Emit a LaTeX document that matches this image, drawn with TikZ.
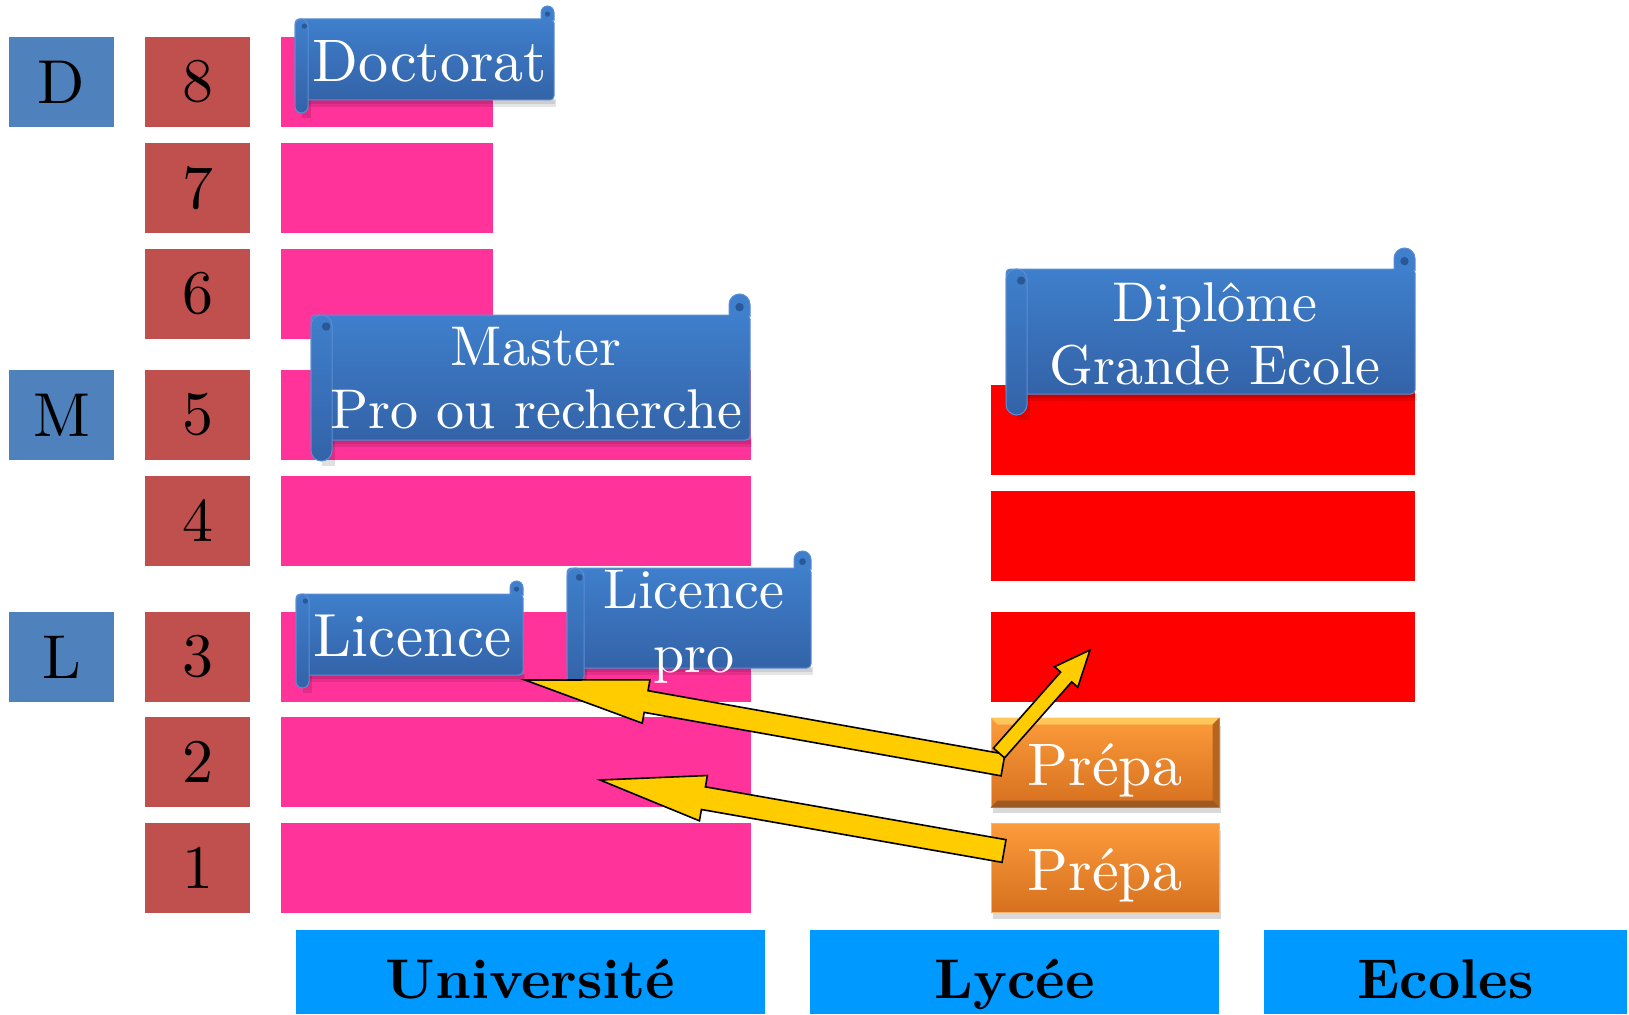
\documentclass[tikz,border=0pt]{standalone}
\usepackage{fontspec}
\setmainfont{lmroman10-regular}[Extension=.otf, BoldFont=lmroman10-bold]
\usetikzlibrary{calc}

\definecolor{lmdblue}{HTML}{4F81BD}
\definecolor{yearred}{HTML}{C0504D}
\definecolor{unipink}{HTML}{FF3399}
\definecolor{gered}{HTML}{FF0000}
\definecolor{placeblue}{HTML}{0099FF}
\definecolor{scrolltop}{HTML}{3F7FCC}
\definecolor{scrollbot}{HTML}{3363A8}
\definecolor{scrolledge}{HTML}{5B8ED3}
\definecolor{scrolldark}{HTML}{2A5796}
\definecolor{prepatop}{HTML}{FC9B3B}
\definecolor{prepabot}{HTML}{D6701F}
\definecolor{prepaedge}{HTML}{F9B36B}
\definecolor{prepalight}{HTML}{FFC65A}
\definecolor{prepashade}{HTML}{B5651D}
\definecolor{prepadeep}{HTML}{9C5A22}
\definecolor{arrowyellow}{HTML}{FFCC00}

% left, top, right, bottom, roll size (pt, top of page = 0, downwards positive)
\newcommand{\scrollshape}[5]{%
  \pgfmathsetmacro\scrollhalf{#5/2}
  \fill[black, opacity=0.10] ({#1+3}, {-#4+#5+1}) rectangle ({#3+2}, {-#4+#5-7});
  \fill[black, opacity=0.10] ({#1+3}, {-#4+#5}) rectangle ({#3+1}, {-#4+#5-4});
  \fill[black, opacity=0.12] ({#1+#5*0.5}, {-#4+#5}) rectangle ({#1+#5+3}, {-#4-5});
  \path[top color=scrolltop, bottom color=scrollbot, draw=scrolledge, line width=1pt, rounded corners=4pt]
    ({#1}, {-#2-#5}) rectangle ({#3}, {-#4+#5});
  \fill[scrolltop] ({#3-#5}, {-#2-#5-1}) -- ({#3-#5}, {-#2-#5/2}) arc[start angle=180, end angle=0, radius=#5/2] -- ({#3}, {-#2-#5-1}) -- cycle;
  \draw[scrolledge, line width=1pt] ({#3-#5}, {-#2-#5}) -- ({#3-#5}, {-#2-#5/2}) arc[start angle=180, end angle=0, radius=#5/2] -- ({#3}, {-#2-#5-2});
  \fill[scrolldark] ({#3-#5/2}, {-#2-#5/2}) ++(0, {-#5/8}) circle[radius=#5/5];
  \path[top color=scrolltop, bottom color=scrollbot, draw=scrolledge, line width=1pt, rounded corners=\scrollhalf pt]
    ({#1}, {-#2-#5}) rectangle ({#1+#5}, {-#4});
  \fill[scrolldark] ({#1+#5*0.72}, {-#2-#5*1.55}) circle[radius=#5*0.2];
}

% tail, tip, shaft half width, head half width, head length
\newcommand{\blockarrow}[5]{%
  \coordinate (#1-base) at ($(#2)!#5!(#1)$);
  \filldraw[arrowbody] ($(#1)!#3!90:(#2)$) -- ($(#1-base)!#3!-90:(#1)$) -- ($(#1-base)!#4!-90:(#1)$) -- (#2)
    -- ($(#1-base)!#4!90:(#1)$) -- ($(#1-base)!#3!90:(#1)$) -- ($(#1)!#3!-90:(#2)$) -- cycle;
}

\begin{document}
\begin{tikzpicture}
[x=1pt, y=1pt, every node/.style={inner sep=0pt},
 lmdbox/.style={rectangle, minimum width=105pt, minimum height=90pt, fill=lmdblue, font=\fontsize{62}{66}\selectfont},
 yearbox/.style={rectangle, minimum width=105pt, minimum height=90pt, fill=yearred, font=\fontsize{62}{66}\selectfont},
 unibar/.style={rectangle, minimum height=90pt, fill=unipink},
 gebar/.style={rectangle, minimum width=424pt, minimum height=90pt, fill=gered},
 prepabox/.style={rectangle, minimum width=228pt, minimum height=89pt, top color=prepatop, bottom color=prepabot,
   draw=prepaedge, line width=1pt, text=white, font=\fontsize{60}{64}\selectfont, text height=45pt, text depth=0pt},
 placebox/.style={rectangle, minimum height=84pt, fill=placeblue, font=\fontsize{56}{60}\selectfont\bfseries,
   text height=52pt, text depth=0pt},
 scrolltext/.style={text=white, align=center, font=\fontsize{56}{63}\selectfont},
 arrowbody/.style={fill=arrowyellow, draw=black, line width=1.6pt}]
\useasboundingbox (0pt, 0pt) rectangle (1629pt, -1014pt);
% cycles
\node (D) [lmdbox] at (61.5pt, -82.0pt) {D};
\node (M) [lmdbox] at (61.5pt, -415.0pt) {M};
\node (L) [lmdbox] at (61.5pt, -657.0pt) {L};
% years
\node (y8) [yearbox] at (197.5pt, -82.0pt) {8};
\node (y7) [yearbox] at (197.5pt, -188.0pt) {7};
\node (y6) [yearbox] at (197.5pt, -294.0pt) {6};
\node (y5) [yearbox] at (197.5pt, -415.0pt) {5};
\node (y4) [yearbox] at (197.5pt, -520.5pt) {4};
\node (y3) [yearbox] at (197.5pt, -657.0pt) {3};
\node (y2) [yearbox] at (197.5pt, -762.0pt) {2};
\node (y1) [yearbox] at (197.5pt, -868.0pt) {1};
% university
\node (u8) [unibar, minimum width=212pt] at (386.5pt, -82.0pt) {};
\node (u7) [unibar, minimum width=212pt] at (386.5pt, -188.0pt) {};
\node (u6) [unibar, minimum width=212pt] at (386.5pt, -294.0pt) {};
\node (u5) [unibar, minimum width=470pt] at (515.5pt, -415.0pt) {};
\node (u4) [unibar, minimum width=470pt] at (515.5pt, -520.5pt) {};
\node (u3) [unibar, minimum width=470pt] at (515.5pt, -657.0pt) {};
\node (u2) [unibar, minimum width=470pt] at (515.5pt, -762.0pt) {};
\node (u1) [unibar, minimum width=470pt] at (515.5pt, -868.0pt) {};
% grandes ecoles
\node (g5) [gebar] at (1203.0pt, -430.0pt) {};
\node (g4) [gebar] at (1203.0pt, -536.0pt) {};
\node (g3) [gebar] at (1203.0pt, -657.0pt) {};
% prepa
\fill[black, opacity=0.15] (993pt, -726pt) rectangle (1221pt, -813pt);
\fill[black, opacity=0.15] (993pt, -831pt) rectangle (1221pt, -919pt);
\node (prepaA) [prepabox] at (1105.0pt, -762.5pt) {Prépa};
\fill[prepalight] (prepaA.north west) -- (prepaA.north east) -- ($(prepaA.north east)+(-7,-7)$) -- ($(prepaA.north west)+(7,-7)$) -- cycle;
\fill[prepashade] (prepaA.north east) -- (prepaA.south east) -- ($(prepaA.south east)+(-7,7)$) -- ($(prepaA.north east)+(-7,-7)$) -- cycle;
\fill[prepadeep] (prepaA.south east) -- (prepaA.south west) -- ($(prepaA.south west)+(7,7)$) -- ($(prepaA.south east)+(-7,7)$) -- cycle;
\node (prepaB) [prepabox] at (1105.0pt, -868.0pt) {Prépa};
% places
\node (universite) [placebox, minimum width=469pt] at (530.5pt, -972.0pt) {Université};
\node (lycee) [placebox, minimum width=409pt] at (1014.5pt, -972.0pt) {Lycée};
\node (ecoles) [placebox, minimum width=363pt] at (1445.5pt, -972.0pt) {Ecoles};
% diplomas
\scrollshape{295}{6}{554}{113}{13}
\node (doctorat) [scrolltext, font=\fontsize{60}{63}\selectfont] at (430.0pt, -61.7pt) {Doctorat};
\scrollshape{311}{294}{750}{461}{21}
\node (master) [scrolltext] at (536.0pt, -378.0pt) {Master\\Pro ou recherche};
\scrollshape{1006}{248}{1415}{415}{21}
\node (diplome) [scrolltext] at (1215.0pt, -334.0pt) {Diplôme\\Grande Ecole};
\scrollshape{296}{581}{523}{688}{13}
\node (licence) [scrolltext, font=\fontsize{61}{63}\selectfont] at (412.5pt, -636.0pt) {Licence};
\scrollshape{567}{551}{811}{685}{17}
\node (licencepro) [scrolltext, font=\fontsize{56}{64}\selectfont] at (694.0pt, -626.5pt) {Licence\\pro};
% passerelles
\coordinate (tailA) at (1003pt, -765pt);
\coordinate (tipA) at (525pt, -680pt);
\coordinate (tailB) at (1004pt, -851pt);
\coordinate (tipB) at (600pt, -780pt);
\coordinate (tailC) at (999pt, -753pt);
\coordinate (tipC) at (1090pt, -650pt);
\blockarrow{tailA}{tipA}{11pt}{22pt}{123pt}
\blockarrow{tailB}{tipB}{11.5pt}{23pt}{105pt}
\blockarrow{tailC}{tipC}{7.4pt}{15.5pt}{36pt}
\end{tikzpicture}
\end{document}
